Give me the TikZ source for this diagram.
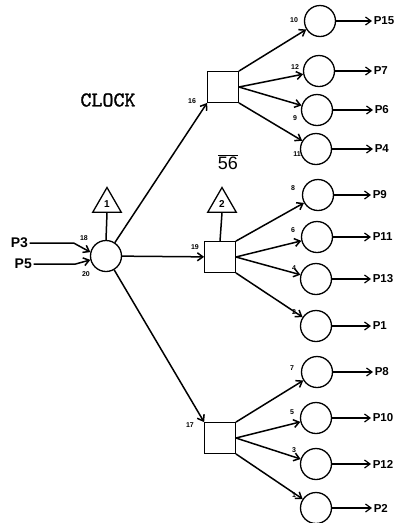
\documentclass[tikz,border=0pt]{standalone}
\usepackage{fontspec}
\setmainfont{Liberation Sans}
\newfontfamily\clockfont[FakeBold=1.3]{lmmono10-regular.otf}
\usetikzlibrary{arrows.meta,shapes.geometric}
\begin{document}
\begin{tikzpicture}[x=1pt,y=-1pt,line width=1.5pt,
  >={Straight Barb[length=5.5pt,width=8pt]},
  place/.style={circle,draw,line width=1.3pt,minimum size=31pt,inner sep=0pt},
  sqbox/.style={draw,line width=1.3pt,minimum size=30.5pt,inner sep=0pt},
  trinode/.style={regular polygon,regular polygon sides=3,draw,line width=1.3pt,minimum size=33pt,inner sep=0pt,font=\bfseries\fontsize{10}{11}\selectfont},
  numlab/.style={font=\bfseries\fontsize{7}{8}\selectfont,inner sep=0pt},
  outlab/.style={anchor=west,inner sep=1pt,font=\bfseries\fontsize{11.5}{12}\selectfont},
  inlab/.style={anchor=west,inner sep=1pt,font=\bfseries\fontsize{14}{15}\selectfont},
  arr/.style={->}]
\useasboundingbox (0,0) rectangle (402,523);
% left part
\node[place] (c) at (106,256) {};
\node[trinode] (t1) at (107,204) {1};
\draw (t1.south) -- (c.north);
\node[inlab] (p3) at (9,243) {P3};
\node[inlab] (p5) at (13,264) {P5};
\draw[arr] (p3.east) -- ++(44,0) -- (c.166);
\draw[arr] (p5.east) -- ++(42,0) -- (c.194);
\node[numlab] (l18) at (84,238) {18};
\node[numlab] (l20) at (86,274) {20};
\node[font=\clockfont\fontsize{21}{23}\selectfont,inner sep=0pt] (clock) at (108,100) {CLOCK};
\node[font=\fontsize{18}{20}\selectfont,inner sep=0pt] (n56) at (228,162) {$\overline{\mbox{56}}$};
% squares
\node[sqbox] (s1) at (223,87) {};
\node[sqbox] (s2) at (220,257) {};
\node[sqbox] (s3) at (220,438) {};
\node[trinode] (t2) at (222,204) {2};
\draw (t2.south) -- (s2.north);
\draw[arr] (c) -- (s1.south west);
\draw[arr] (c) -- (s2);
\draw[arr] (c) -- (s3.north west);
\node[numlab] (l16) at (192,101) {16};
\node[numlab] (l19) at (195,247) {19};
\node[numlab] (l17) at (190,425) {17};
% right circles
\node[place] (c10) at (320,21) {};
\node[place] (c12) at (319,71) {};
\node[place] (c9) at (317,110) {};
\node[place] (c11) at (316,149) {};
\node[place] (c8) at (318,195) {};
\node[place] (c6) at (317,237) {};
\node[place] (c4) at (316,279) {};
\node[place] (c2) at (316,326) {};
\node[place] (c7) at (317,372) {};
\node[place] (c5) at (316,418) {};
\node[place] (c3) at (316,464) {};
\node[place] (c1) at (316,508) {};
% arrows from squares
\draw[arr] (s1.north east) -- (c10);
\draw[arr] (s1.east) -- (c12);
\draw[arr] (s1.east) -- (c9);
\draw[arr] (s1.south east) -- (c11);
\draw[arr] (s2.north east) -- (c8);
\draw[arr] (s2.east) -- (c6);
\draw[arr] (s2.east) -- (c4);
\draw[arr] (s2.south east) -- (c2);
\draw[arr] (s3.north east) -- (c7);
\draw[arr] (s3.east) -- (c5);
\draw[arr] (s3.east) -- (c3);
\draw[arr] (s3.south east) -- (c1);
% number labels
\node[numlab] (n10) at (294,20) {10};
\node[numlab] (n12) at (295,67) {12};
\node[numlab] (n9) at (295,118) {9};
\node[numlab] (n11) at (297,154) {11};
\node[numlab] (n8) at (293,188) {8};
\node[numlab] (n6) at (293,230) {6};
\node[numlab] (n4) at (294,268) {4};
\node[numlab] (n2) at (294,312) {2};
\node[numlab] (n7) at (292,368) {7};
\node[numlab] (n5) at (292,412) {5};
\node[numlab] (n3) at (294,450) {3};
\node[numlab] (n1) at (294,495) {1};
% outputs
\node[outlab] (o10) at (372,21) {P15};
\node[outlab] (o12) at (372,71) {P7};
\node[outlab] (o9) at (373,110) {P6};
\node[outlab] (o11) at (373,149) {P4};
\node[outlab] (o8) at (371,195) {P9};
\node[outlab] (o6) at (371,237) {P11};
\node[outlab] (o4) at (371,279) {P13};
\node[outlab] (o2) at (371,326) {P1};
\node[outlab] (o7) at (373,372) {P8};
\node[outlab] (o5) at (371,418) {P10};
\node[outlab] (o3) at (371,464) {P12};
\node[outlab] (o1) at (372,508) {P2};
\foreach \k in {10,12,9,11,8,6,4,2,7,5,3,1}{
  \draw[arr,line width=1.2pt] (c\k.east) -- (o\k.west);
}
\end{tikzpicture}
\end{document}
